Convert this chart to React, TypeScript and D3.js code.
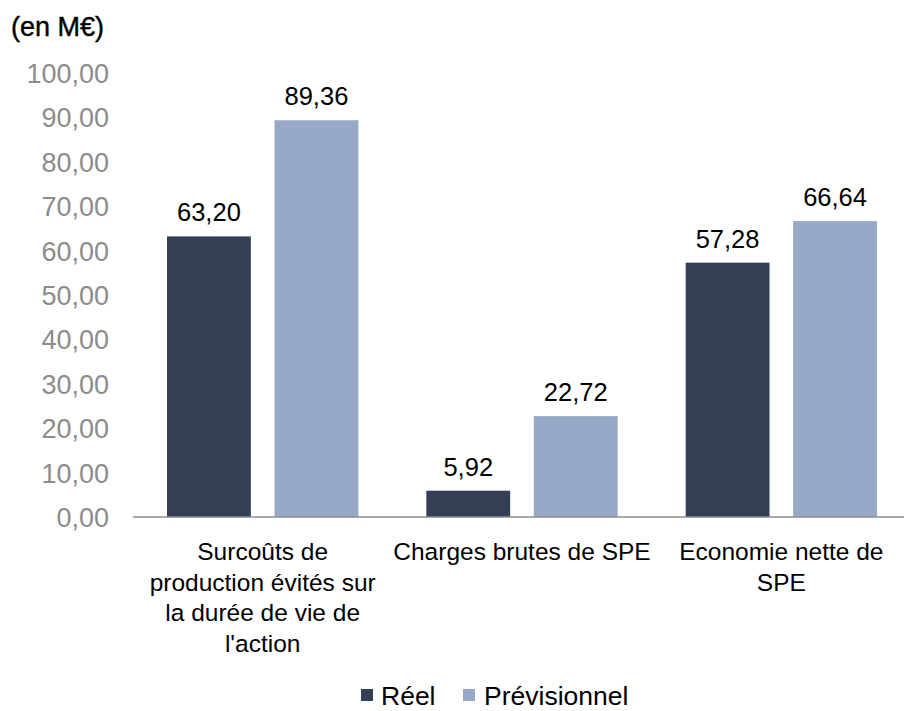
import React from "react";
import * as d3 from "d3";

const categories = [
  ["Surcoûts de", "production évités sur", "la durée de vie de", "l'action"],
  ["Charges brutes de SPE"],
  ["Economie nette de", "SPE"],
];
const reel = [63.2, 5.92, 57.28];
const previsionnel = [89.36, 22.72, 66.64];
const series = ["Réel", "Prévisionnel"];
const yTicks = [0, 10, 20, 30, 40, 50, 60, 70, 80, 90, 100];

const colors = ["#333f55", "#97a9c6"];
const font = "'Liberation Sans', Arial, sans-serif";

export default function App() {
  const width = 904;
  const height = 711;
  const left = 133;
  const right = 911;
  const y = d3.scaleLinear().domain([0, 100]).range([517, 73]);
  const x0 = d3.scaleBand<number>().domain([0, 1, 2]).range([left, right]).paddingInner(0).paddingOuter(0);
  const x1 = d3.scaleBand<number>().domain([0, 1]).range([34, x0.bandwidth() - 34]).paddingInner(0.22);
  const fmt = (v: number) => v.toFixed(2).replace(".", ",");
  const data = [reel, previsionnel];

  return (
    <svg width={width} height={height} style={{ position: "absolute", left: 0, top: 0 }} fontFamily={font}>
      <text x={11} y={36} fontSize={27} fill="#000" fontWeight={500} stroke="#000" strokeWidth={0.4}>(en M€)</text>
      {yTicks.map((t) => (
        <text key={t} x={109} y={y(t) + 10} textAnchor="end" fontSize={27} fill="#8c8c8c">
          {fmt(t)}
        </text>
      ))}
      {categories.map((lines, i) => (
        <g key={i} transform={`translate(${x0(i)},0)`}>
          {data.map((vals, s) => (
            <g key={s}>
              <rect x={x1(s)} y={y(vals[i])} width={x1.bandwidth()} height={y(0) - y(vals[i])} fill={colors[s]} />
              <text x={x1(s)! + x1.bandwidth() / 2} y={y(vals[i]) - 15} textAnchor="middle" fontSize={25.5} fill="#000">
                {fmt(vals[i])}
              </text>
            </g>
          ))}
          {lines.map((l, j) => (
            <text key={j} x={x0.bandwidth() / 2} y={560 + j * 30.5} textAnchor="middle" fontSize={24.5} fill="#000">
              {l}
            </text>
          ))}
        </g>
      ))}
      <line x1={left} x2={right} y1={y(0)} y2={y(0)} stroke="#8c8c8c" strokeWidth={1.5} />
      <g>
        <rect x={361} y={689} width={12} height={12} fill={colors[0]} />
        <text x={381} y={705} fontSize={26.5} fill="#000">{series[0]}</text>
        <rect x={463} y={689} width={12} height={12} fill={colors[1]} />
        <text x={484} y={705} fontSize={26.5} fill="#000">{series[1]}</text>
      </g>
    </svg>
  );
}
